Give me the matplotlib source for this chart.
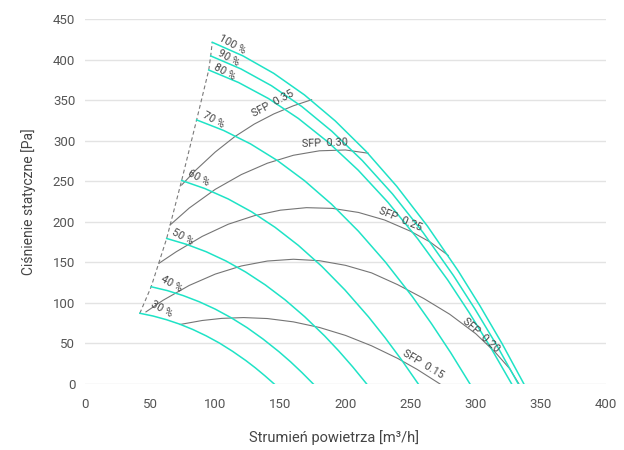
import matplotlib
matplotlib.use('Agg')
import matplotlib.pyplot as plt

plt.rcParams['font.family'] = ['Roboto', 'DejaVu Sans']

# fan curves: flow [m3/h] and static pressure [Pa]
q30 = [42.1, 52.3, 62.5, 72.7, 82.8, 93.0, 103.2, 113.3, 123.5, 130.8, 138.0, 145.3]
p30 = [87.2, 83.8, 79.3, 73.8, 67.2, 59.4, 50.5, 40.3, 28.9, 19.9, 10.3, 0]
q40 = [50.8, 63.1, 75.4, 87.7, 99.9, 112.2, 124.5, 136.7, 149.0, 157.8, 166.5, 175.3]
p40 = [119.9, 115.2, 109.0, 101.4, 92.4, 81.7, 69.4, 55.4, 39.7, 27.4, 14.2, 0]
q50 = [62.7, 77.9, 93.0, 108.2, 123.3, 138.4, 153.6, 168.7, 183.9, 194.7, 205.5, 216.3]
p50 = [179.4, 172.2, 163.1, 151.7, 138.1, 122.2, 103.8, 82.9, 59.4, 41.0, 21.2, 0]
q60 = [74.2, 92.1, 110.0, 128.0, 145.9, 163.8, 181.7, 199.6, 217.5, 230.3, 243.1, 255.9]
p60 = [250.9, 240.9, 228.1, 212.2, 193.2, 170.9, 145.2, 115.9, 83.1, 57.3, 29.6, 0]
q70 = [85.7, 106.4, 127.1, 147.8, 168.5, 189.2, 209.9, 230.6, 251.3, 266.0, 280.8, 295.6]
p70 = [325.6, 312.6, 296.0, 275.4, 250.7, 221.8, 188.4, 150.4, 107.8, 74.4, 38.5, 0]
q80 = [95.0, 117.9, 140.9, 163.8, 186.7, 209.7, 232.6, 255.5, 278.5, 294.8, 311.2, 327.6]
p80 = [387.1, 371.7, 351.9, 327.4, 298.1, 263.7, 224.0, 178.9, 128.2, 88.4, 45.7, 0]
q90 = [96.5, 119.8, 143.1, 166.4, 189.6, 212.9, 236.2, 259.5, 282.8, 299.4, 316.1, 332.7]
p90 = [404.5, 388.4, 367.8, 342.2, 311.5, 275.5, 234.1, 186.9, 133.9, 92.4, 47.8, 0]
q100 = [97.7, 121.3, 144.9, 168.5, 192.1, 215.7, 239.3, 262.9, 286.5, 303.3, 320.2, 337.0]
p100 = [421.3, 404.5, 383.0, 356.4, 324.4, 287.0, 243.8, 194.7, 139.5, 96.2, 49.8, 0]

fan_q = [q30, q40, q50, q60, q70, q80, q90, q100]
fan_p = [p30, p40, p50, p60, p70, p80, p90, p100]
fan_labels = ['30 %', '40 %', '50 %', '60 %', '70 %', '80 %', '90 %', '100 %']
fan_label_q = [58.9, 66.6, 75.0, 87.0, 98.5, 106.9, 110.3, 113.3]
fan_label_p = [92.5, 122.9, 180.9, 253.6, 325.5, 385.0, 401.6, 419.2]

# SFP lines
sfp015_q = [73.0, 90, 105, 121.75, 140, 160, 180, 200, 220, 240, 255, 272.6]
sfp015_p = [73.4, 78.3, 80.9, 81.9, 80.7, 76.6, 69.7, 59.9, 47.1, 31.6, 18.0, 0]
sfp020_q = [46.8, 60, 80, 100, 120, 140, 160, 180, 200, 220, 240, 260, 280, 300, 315, 326, 333.2]
sfp020_p = [88.9, 103.3, 121.5, 135.5, 145.5, 151.6, 153.8, 152.0, 146.3, 137.0, 122.5, 105.5,
            86.0, 62.0, 39.0, 19.0, 0]
sfp025_q = [56.8, 70, 90, 110, 130, 150, 170, 190, 210, 230, 250, 265, 278.9]
sfp025_p = [148.8, 163.0, 182.0, 197.0, 207.5, 214.3, 217.4, 216.5, 211.5, 202.2, 188.3, 175.0, 158.5]
sfp030_q = [65.3, 80, 100, 120, 140, 160, 180, 200, 217.5]
sfp030_p = [196.0, 216.9, 240.0, 258.2, 272.2, 282.0, 287.5, 288.5, 284.5]
sfp035_q = [74.2, 85, 100, 115, 130, 145, 160, 174]
sfp035_p = [245.3, 263.6, 286.0, 305.0, 320.5, 333.0, 343.0, 350.5]

sfp_q = [sfp015_q, sfp020_q, sfp025_q, sfp030_q, sfp035_q]
sfp_p = [sfp015_p, sfp020_p, sfp025_p, sfp030_p, sfp035_p]
sfp_labels = ['SFP  0.15', 'SFP  0.20', 'SFP  0.25', 'SFP  0.30', 'SFP  0.35']
sfp_label_q = [259.4, 304.2, 241.8, 184.3, 144.6]
sfp_label_p = [24.7, 60.4, 203.1, 296.8, 345.2]
sfp_label_rot = [-31, -42, -23, 2, 28]

x_ticks = [0, 50, 100, 150, 200, 250, 300, 350, 400]
y_ticks = [0, 50, 100, 150, 200, 250, 300, 350, 400, 450]

fan_color = '#1fe3c6'
sfp_color = '#757575'
text_color = '#454545'

fig = plt.figure(figsize=(6.24, 4.5), dpi=100)
ax = fig.add_axes([85 / 624, 1 - 384 / 450, 521 / 624, 365 / 450])

for q, p in zip(fan_q, fan_p):
    ax.plot(q, p, color=fan_color, lw=1.1, zorder=3, solid_joinstyle='round')

for q, p in zip(sfp_q, sfp_p):
    ax.plot(q, p, color=sfp_color, lw=0.8, zorder=2, solid_joinstyle='round')

# minimum flow line through the start of each fan curve
lim_q = [q[0] for q in fan_q]
lim_p = [p[0] for p in fan_p]
ax.plot(lim_q, lim_p, color='#7a7a7a', lw=0.8, linestyle=(0, (3.5, 2.5)), zorder=2)

for lab, q, p in zip(fan_labels, fan_label_q, fan_label_p):
    ax.text(q, p, lab, rotation=-29, rotation_mode='anchor', ha='center', va='center',
            fontsize=7.8, color=text_color)

for lab, q, p, r in zip(sfp_labels, sfp_label_q, sfp_label_p, sfp_label_rot):
    ax.text(q, p, lab, rotation=r, rotation_mode='anchor', ha='center', va='center',
            fontsize=7.8, color=text_color)

ax.set_xlim(0, 400)
ax.set_ylim(0, 450)
ax.set_xticks(x_ticks)
ax.set_yticks(y_ticks)
for s in ax.spines.values():
    s.set_visible(False)
ax.grid(axis='y', color='#e3e3e3', lw=1.0)
ax.set_axisbelow(True)
ax.tick_params(axis='both', length=0, labelsize=9.5, labelcolor='#555555')
ax.tick_params(axis='y', pad=7)
ax.tick_params(axis='x', pad=10)

ax.set_xlabel('Strumień powietrza [m³/h]', fontsize=10.5, color=text_color, labelpad=12)
ax.set_ylabel('Ciśnienie statyczne [Pa]', fontsize=10, color=text_color, labelpad=12)
ax.xaxis.set_label_coords(0.478, -0.125)

fig.savefig('out.png', dpi=100)
